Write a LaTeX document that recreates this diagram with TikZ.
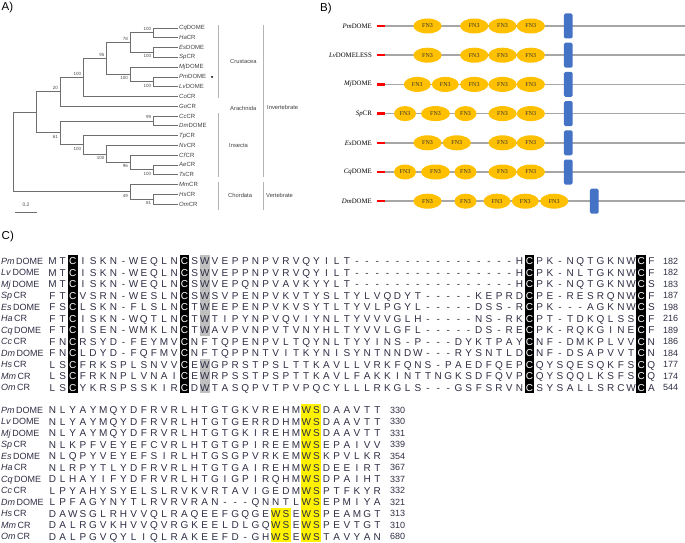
\documentclass[tikz,border=0pt]{standalone}
\usepackage{fontspec}
\setmainfont{Liberation Sans}
\newfontfamily\tnr{Liberation Serif}
\usetikzlibrary{shapes.geometric}
\definecolor{alntxt}{HTML}{2E2E44}
\definecolor{treeg}{HTML}{6E6E6E}
\definecolor{barg}{HTML}{B4B4B4}
\definecolor{fnyel}{HTML}{FFC000}
\definecolor{tmblue}{HTML}{4472C4}
\definecolor{protg}{HTML}{A6A6A6}
\definecolor{wgray}{HTML}{C0C0C0}
\tikzset{
  panel/.style={font=\fontsize{11.5}{13}\selectfont, anchor=west, inner sep=0},
  leaf/.style={font=\fontsize{6}{7}\selectfont, text=black!75, anchor=west, inner sep=1pt},
  boot/.style={font=\fontsize{4.5}{5}\selectfont, text=black!70, inner sep=2pt},
  grp/.style={font=\fontsize{5.8}{7}\selectfont, text=black!75, anchor=west, inner sep=0},
  branch/.style={treeg, line width=0.8pt},
  grpbar/.style={barg, line width=1pt},
  dlab/.style={font=\tnr\fontsize{6.8}{8}\selectfont, anchor=east, inner sep=0},
  fn/.style={ellipse, fill=fnyel, minimum height=15pt, inner sep=0, font=\tnr\fontsize{6}{7}\selectfont, text=black!80},
  sig/.style={fill=red, minimum width=8pt, minimum height=2.5pt, inner sep=0},
  tm/.style={fill=tmblue, rounded corners=1.5pt, minimum width=8.7pt, minimum height=25pt, inner sep=0},
  prot/.style={protg, line width=1.6pt},
  aa/.style={font=\fontsize{10}{12}\selectfont, text=alntxt, anchor=base, inner sep=0, yshift=-3.6pt},
  nm/.style={font=\fontsize{9}{11}\selectfont, text=alntxt, anchor=base west, inner sep=0, yshift=-3.4pt},
  len/.style={font=\fontsize{9}{11}\selectfont, text=alntxt, anchor=base west, inner sep=0, yshift=-3.3pt},
}
\makeatletter
\newcounter{alncol}
\def\alnxo{52.5}
\def\alnstep{10.15}
\newcommand\alnrow[3]{%
  \setcounter{alncol}{0}%
  \def\alnname{#1}\def\alny{#2}%
  \expandafter\alnnext#3\relax}
\def\alnnext#1{%
  \ifx\relax#1\expandafter\@gobble\else\expandafter\@firstofone\fi
  {\alnput{#1}\alnnext}}
\def\alnput#1{%
  \stepcounter{alncol}%
  \pgfmathsetmacro\alnx{\alnxo+\alnstep*(\arabic{alncol}-1)}%
  \edef\alndo{\noexpand\node[aa,c\arabic{alncol}/.try] (\alnname-\arabic{alncol}) at (\alnx,\alny) {\noexpand#1};}%
  \alndo}
\makeatother

\begin{document}
\begin{tikzpicture}[x=1pt,y=-1pt]
  \useasboundingbox (0,0) rectangle (685,543);

  % A) tree
  \node[panel] (pa) at (1.5,7.5) {A)};
  \foreach \nm/\ab/\gn [count=\i from 0] in {cq/Cq/DOME, ha/Ha/CR, es/Es/DOME, sp/Sp/CR, mj/Mj/DOME, pm/Pm/DOME, lv/Lv/DOME, co/Co/CR, go/Go/CR, cc/Cc/CR, dm/Dm/DOME, tp/Tp/CR, nv/Nv/CR, cf/Cf/CR, ae/Ae/CR, ts/Ts/CR, mm/Mm/CR, hs/Hs/CR, om/Om/CR}
    \node[leaf] (l\nm) at (178,{28+9.78*\i}) {\textit{\ab}\gn};
  \fill (212,76.9) circle (1.1);

  \coordinate (n1) at (153.3,32.89);
  \coordinate (n2) at (153.3,52.45);
  \coordinate (n3) at (130,42.67);
  \coordinate (n4) at (153.3,81.79);
  \coordinate (n5) at (130,74.46);
  \coordinate (n6) at (106.7,58.56);
  \coordinate (n7) at (83.3,77.51);
  \coordinate (n8) at (60,91.88);
  \coordinate (n9) at (153.3,120.91);
  \coordinate (n10) at (153.3,169.81);
  \coordinate (n11) at (130,162.48);
  \coordinate (n12) at (106.7,153.92);
  \coordinate (n13) at (83.3,144.75);
  \coordinate (n14) at (60,132.83);
  \coordinate (n15) at (36.7,112.36);
  \coordinate (n16) at (153.3,199.15);
  \coordinate (n17) at (130,191.82);
  \coordinate (root) at (13.3,152.09);

  \draw[branch] (n1) |- (lcq.west) (n1) |- (lha.west) (n2) |- (les.west) (n2) |- (lsp.west)
    (n3) |- (n1) (n3) |- (n2) (n4) |- (lpm.west) (n4) |- (llv.west) (n5) |- (lmj.west) (n5) |- (n4)
    (n6) |- (n3) (n6) |- (n5) (n7) |- (n6) (n7) |- (lco.west) (n8) |- (n7) (n8) |- (lgo.west)
    (n9) |- (lcc.west) (n9) |- (ldm.west) (n10) |- (lae.west) (n10) |- (lts.west)
    (n11) |- (lcf.west) (n11) |- (n10) (n12) |- (lnv.west) (n12) |- (n11)
    (n13) |- (ltp.west) (n13) |- (n12) (n14) |- (n9) (n14) |- (n13)
    (n15) |- (n8) (n15) |- (n14) (n16) |- (lhs.west) (n16) |- (lom.west)
    (n17) |- (lmm.west) (n17) |- (n16) (root) |- (n15) (root) |- (n17);

  \foreach \c/\v in {n1/100, n3/78, n6/95, n7/100, n8/20, n9/99}
    \node[boot, anchor=south east] (b\c) at (\c) {\v};
  \foreach \c/\v in {n2/100, n4/100, n5/100, n10/100, n11/96, n12/100, n13/100, n14/61, n16/81, n17/49}
    \node[boot, anchor=north east] (b\c) at (\c) {\v};

  \draw[branch] (15,212) -- (37,212);
  \node[boot, font=\fontsize{5}{6}\selectfont] (scl) at (26,205) {0.2};

  \draw[grpbar] (218,25) -- (218,98) (218,113) -- (218,177) (218,182) -- (218,210)
    (263,25) -- (263,177) (263,182) -- (263,210);
  \node[grp] (gcru) at (230,62) {Crustacea};
  \node[grp] (gara) at (230,108) {Arachnida};
  \node[grp] (gins) at (229,146) {Insecta};
  \node[grp] (gcho) at (228,195) {Chordata};
  \node[grp] (ginv) at (267,107) {Invertebrate};
  \node[grp] (gver) at (266,195) {Vertebrate};

  % B) domains
  \node[panel] (pb) at (320,8.3) {B)};
  \foreach \nm/\lab/\y/\tmx/\fns in {
      pm/{\textit{Pm}DOME}/26/568.3/{427.5/28.3,474.2/28.3,502.5/28.3,530.8/28.3},
      lv/{\textit{Lv}DOMELESS}/55.2/568.3/{427.5/28.3,474.2/28.3,502.5/28.3,530.8/28.3},
      mj/{\textit{Mj}DOME}/84.4/568.3/{417.3/27,445.3/27,474.2/28.3,502.5/28.3,530.8/28.3},
      sp/{\textit{Sp}CR}/113.6/568.3/{405/22,435.5/29,465.5/22,502.5/28.3,530.8/28.3},
      es/{\textit{Es}DOME}/142.8/568.3/{427.5/28.3,456.8/28.3,502.5/28.3,530.8/28.3},
      cq/{\textit{Cq}DOME}/172/568.3/{405/22,435.5/29,465.5/22,502.5/28.3,530.8/28.3},
      dm/{\textit{Dm}DOME}/201.2/594.3/{427.5/28.3,465.5/22,497/27,525.3/27,554.2/28.3}}{
    \node[dlab] (d\nm) at (372,\y) {\lab};
    \node[sig] (s\nm) at (381,\y) {};
    \draw[prot] (s\nm.east) -- (685,\y);
    \node[tm] (t\nm) at (\tmx,\y) {};
    \foreach \x/\w [count=\k] in \fns
      \node[fn, minimum width=\w] (f\nm\k) at (\x,\y) {FN3};
  }

  % C) alignment
  \node[panel] (pc) at (1.5,236.7) {C)};
  \foreach \c in {3,14,48,59}
    \fill[black] ({\alnxo+\alnstep*(\c-1)-4.8},255.25) rectangle ({\alnxo+\alnstep*(\c-1)+4.8},393.25);
  \fill[wgray] ({\alnxo+\alnstep*15-4.8},255.25) rectangle ({\alnxo+\alnstep*15+4.8},335.75);
  \fill[wgray] ({\alnxo+\alnstep*15-4.8},358.75) rectangle ({\alnxo+\alnstep*15+4.8},393.25);
  \begin{scope}[c3/.style={text=white}, c14/.style={text=white}, c48/.style={text=white}, c59/.style={text=white}]
    \foreach \nm/\ab/\gn/\sq/\n [count=\i from 0] in {
        pm/Pm/DOME/{MTCISKN-WEQLNCSWVEPPNPVRVQYILT ---------------- H CPK-NQTGKNWCF}/182,
        lv/Lv/DOME/{MTCISKN-WEQLNCSWVEPPNPVRVQYILT ---------------- H CPK-NLTGKNWCF}/182,
        mj/Mj/DOME/{MTCISKN-WEQLNCSWVEPQNPVAVKYYLT ---------------- H CPK-NQTGKNWCS}/183,
        sp/Sp/CR/{FTCVSRN-WESLNCSWSVPENPVKVTYSLT YLVQDYT-----KEPRD CPE-RESRQNWCF}/187,
        es/Es/DOME/{FSCLSKN-FLSLNCTWEEPENPVKVSYTLT YVLPGYL-----DSS-R CPK---AGKNWCS}/198,
        ha/Ha/CR/{FTCISKN-WQTLNCTWTIPYNPVQVIYNLT YVVVGLH-----NS-RK CPT-TDKQLSSCF}/216,
        cq/Cq/DOME/{FTCISEN-WMKLNCTWAVPVNPVTVNYHLT YVVLGFL-----DS-RE CPK-RQKGINECF}/189,
        cc/Cc/CR/{FNCRSYD-FEYMVCNFTQPENPVLTQYNLT YYINS-P---DYKTPAY CNF-DMKPLVVCN}/186,
        dm/Dm/DOME/{FNCLDYD-FQFMVCNFTQPPNTVITKYNIS YNTNNDW---RYSNTLD CNF-DSAPVVTCN}/184,
        hs/Hs/CR/{LSCFRKSPLSNVVCEWGPRSTPSLTTKAVL LVRKFQNS-PAEDFQEP CQYSQESQKFSCQ}/177,
        mm/Mm/CR/{LSCFRKNPLVNAICEWRPSSTPSPTTKAVL FAKKINTTNGKSDFQVP CQYSQQLKSFSCQ}/174,
        om/Om/CR/{LSCYKRSPSSKIRCDWTASQPVTPVPQCYL LLRKGLS---GSFSRVN CSYSALLSRCWCA}/544}{
      \pgfmathsetmacro\yy{261+11.5*\i}
      \node[nm] (a\nm) at (1,\yy) {\textit{\ab}\,\gn};
      \alnrow{a\nm}{\yy}{\sq}
      \node[len] (a\nm n) at (663,\yy) {\n};
    }
  \end{scope}

  \fill[yellow] ({\alnxo+\alnstep*25-5},404.25) rectangle ({\alnxo+\alnstep*26+5},542.25);
  \fill[yellow] ({\alnxo+\alnstep*22-5},507.75) rectangle ({\alnxo+\alnstep*23+5},542.25);
  \foreach \nm/\ab/\gn/\sq/\n [count=\i from 0] in {
      pm/Pm/DOME/{NLYAYMQYDFRVRLHTGTGKVREHMWSDAAVTT}/330,
      lv/Lv/DOME/{NLYAYMQYDFRVRLHTGTGERRDHMWSDAAVTT}/330,
      mj/Mj/DOME/{NLYAYMQYDFRVRLHTGTGKIREHMWSDAAVTT}/331,
      sp/Sp/CR/{NLKPFVEYEFCVRLHTGTGPIREEMWSEPAIVV}/339,
      es/Es/DOME/{NLQPYVEYEFSIRLHTGSGPVRKEMWSKPVLKR}/354,
      ha/Ha/CR/{NLRPYTLYDFRVRLHTGTGAIREHMWSDEEIRT}/367,
      cq/Cq/DOME/{DLHAYIFYDFRVRLHTGIGPIRQHMWSDPAIHT}/337,
      cc/Cc/CR/{LPYAHYSYELSLRVKVRTAVIGEDMWSPTFKYR}/332,
      dm/Dm/DOME/{LPFAGYNYTLRVRVRAN---QNNTLWSEPMIYA}/321,
      hs/Hs/CR/{DAWSGLRHVVQLRAQEEFGQGEWSEWSPEAMGT}/313,
      mm/Mm/CR/{DALRGVKHVVQVRGKEELDLGQWSEWSPEVTGT}/310,
      om/Om/CR/{DALPGVQYLIQLRAKEEFD-GHWSEWSTAVYAN}/680}{
    \pgfmathsetmacro\yy{410+11.5*\i}
    \node[nm] (b\nm) at (1,\yy) {\textit{\ab}\,\gn};
    \alnrow{b\nm}{\yy}{\sq}
    \node[len] (b\nm n) at (390,\yy) {\n};
  }
\end{tikzpicture}
\end{document}
